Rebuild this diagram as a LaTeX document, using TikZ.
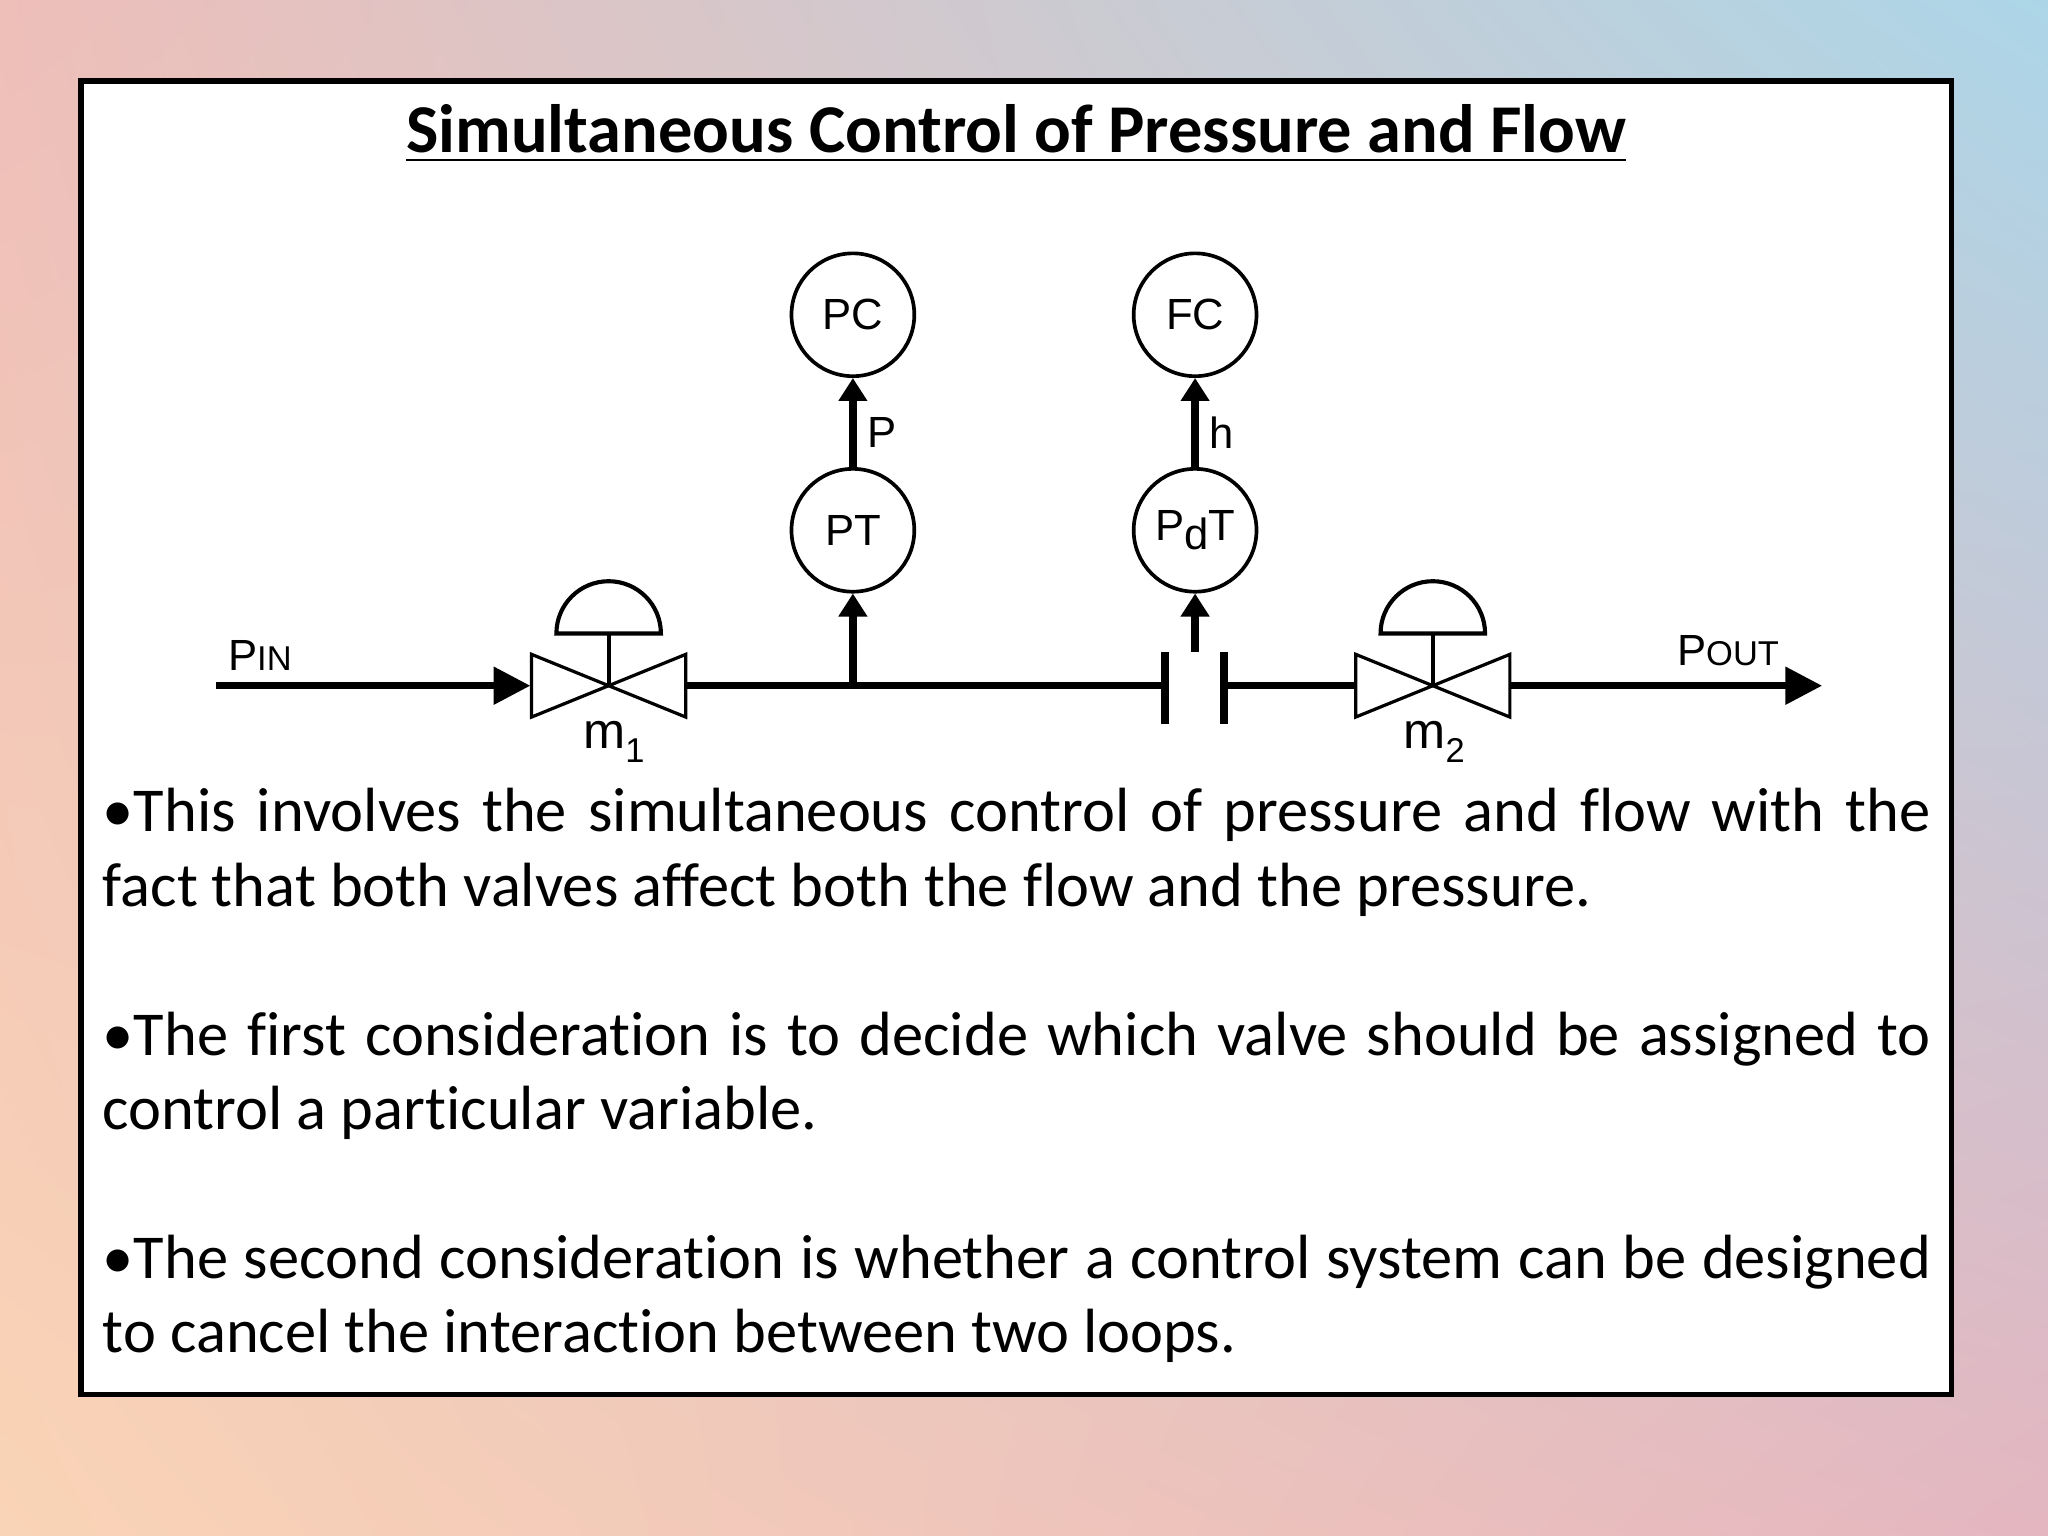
\documentclass[tikz,border=0pt]{standalone}
\usepackage{fontspec}
\setmainfont{Carlito}[Ligatures={NoCommon}]
\newfontfamily\arialf{Liberation Sans}
\usetikzlibrary{arrows.meta,shadings}
\definecolor{bgul}{RGB}{238,190,185}
\definecolor{bgur}{RGB}{172,214,232}
\definecolor{bgll}{RGB}{250,212,182}
\definecolor{bglr}{RGB}{228,182,192}
\begin{document}
\begin{tikzpicture}[x=0.01cm,y=-0.01cm,
  pipe/.style={line width=1.4pt},
  sig/.style={line width=1.6pt,-{Triangle[length=5pt,width=6pt]}},
  inst/.style={circle,draw,line width=0.8pt,minimum size=0.94cm,inner sep=0pt,font=\arialf\fontsize{9.5}{11}\selectfont},
  lab/.style={font=\arialf\fontsize{9.5}{11}\selectfont,inner sep=0pt},
  valve/.style={line width=0.7pt,fill=white}]
\useasboundingbox (0,0) rectangle (1568,1176);
\shade[upper left=bgul, upper right=bgur, lower left=bgll, lower right=bglr] (0,0) rectangle (1568,1176);
\draw[line width=1.1pt,fill=white] (62,62) rectangle (1494,1068);
\node[font=\bfseries\fontsize{14.9}{18}\selectfont,anchor=base] (title) at (778,117) {\underline{Simultaneous Control of Pressure and Flow}};
% instruments
\node[inst] (PC) at (653,241) {PC};
\node[inst] (PT) at (653,406) {PT};
\node[inst] (FC) at (915,241) {FC};
\node[inst] (PdT) at (915,406) {P\raisebox{-0.4ex}{d}T};
% pipe
\coordinate (in) at (165,525);
\coordinate (v1l) at (406,525);
\coordinate (v1r) at (525,525);
\coordinate (tap) at (653,525);
\coordinate (o1) at (892,525);
\coordinate (o2) at (937,525);
\coordinate (v2l) at (1038,525);
\coordinate (v2r) at (1156,525);
\coordinate (out) at (1395,525);
\draw[pipe,-{Triangle[length=8pt,width=8pt]}] (in) -- (v1l);
\draw[pipe] (v1r) -- (o1);
\draw[pipe] (o2) -- (v2l);
\draw[pipe,-{Triangle[length=8pt,width=8pt]}] (v2r) -- (out);
\draw[line width=1.6pt] (892,499) -- (892,554) (937,499) -- (937,554);
% valves
\foreach \c in {466,1097}{
  \draw[valve] (\c-59,501) -- (\c,525) -- (\c-59,549) -- cycle;
  \draw[valve] (\c+59,501) -- (\c,525) -- (\c+59,549) -- cycle;
  \draw[line width=0.9pt] (\c,525) -- (\c,485);
  \draw[line width=0.9pt] (\c-40,485) arc (180:360:40) -- cycle;
}
\node[lab,font=\arialf\fontsize{11}{12}\selectfont] (m1) at (470,568) {m\raisebox{-0.5ex}{\fontsize{7.5}{9}\selectfont 1}};
\node[lab,font=\arialf\fontsize{11}{12}\selectfont] (m2) at (1098,568) {m\raisebox{-0.5ex}{\fontsize{7.5}{9}\selectfont 2}};
\node[lab] (pin) at (199,502) {P{\fontsize{7.5}{9}\selectfont IN}};
\node[lab] (pout) at (1323,498) {P{\fontsize{7.5}{9}\selectfont OUT}};
% signals
\draw[sig] (tap) -- (PT);
\draw[sig] (PT) -- (PC);
\coordinate (dp) at (915,499);
\draw[sig] (dp) -- (PdT);
\draw[sig] (PdT) -- (FC);
\node[lab] (Plab) at (675,331) {P};
\node[lab] (hlab) at (935,331) {h};
% text
\node[anchor=north west,inner sep=0pt,text width=13.99cm,align=justify,
  font=\fontsize{13.6}{16.2}\selectfont] (body) at (78,603) {%
\hyphenpenalty=10000\exhyphenpenalty=10000
\textbullet This involves the simultaneous control of pressure and flow with the\linebreak fact that both valves affect both the flow and the pressure.\par\vspace{16.2pt}
\textbullet The first consideration is to decide which valve should be assigned to control a particular variable.\par\vspace{16.2pt}
\textbullet The second consideration is whether a control system can be designed to cancel the interaction between two loops.};
\end{tikzpicture}
\end{document}
